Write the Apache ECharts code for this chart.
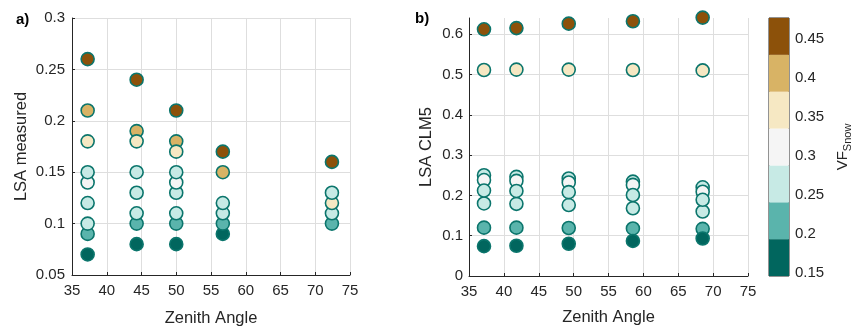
<!DOCTYPE html>
<html>
<head>
<meta charset="utf-8">
<script src="https://cdn.jsdelivr.net/npm/echarts@6/dist/echarts.min.js"></script>
<style>
html,body{margin:0;padding:0;background:#fff;}
#chart{width:854px;height:332px;}
</style>
</head>
<body>
<div id="chart"></div>
<script>
// ---- Panel a) LSA measured ----
const measuredZenith = [
  37.25, 37.25, 37.25, 37.25, 37.25, 37.25, 37.25, 37.25, 37.25,
  44.3, 44.3, 44.3, 44.3, 44.3, 44.3, 44.3, 44.3,
  50.0, 50.0, 50.0, 50.0, 50.0, 50.0, 50.0, 50.0, 50.0,
  56.7, 56.7, 56.7, 56.7, 56.7, 56.7,
  72.4, 72.4, 72.4, 72.4, 72.4
];
const measuredLSA = [
  0.07, 0.09, 0.10, 0.12, 0.14, 0.15, 0.21, 0.18, 0.26,
  0.08, 0.10, 0.11, 0.13, 0.15, 0.19, 0.18, 0.24,
  0.08, 0.10, 0.11, 0.13, 0.14, 0.15, 0.18, 0.17, 0.21,
  0.09, 0.10, 0.11, 0.12, 0.15, 0.17,
  0.10, 0.11, 0.12, 0.13, 0.16
];
const measuredVF = [
  0.17, 0.22, 0.26, 0.26, 0.31, 0.26, 0.41, 0.36, 0.45,
  0.17, 0.22, 0.26, 0.26, 0.26, 0.41, 0.36, 0.45,
  0.17, 0.22, 0.26, 0.26, 0.31, 0.26, 0.41, 0.36, 0.45,
  0.17, 0.22, 0.26, 0.26, 0.41, 0.45,
  0.22, 0.26, 0.36, 0.26, 0.45
];

// ---- Panel b) LSA CLM5 ----
const clmZenith = [
  37.15, 37.15, 37.15, 37.15, 37.15, 37.15, 37.15, 37.15,
  41.8, 41.8, 41.8, 41.8, 41.8, 41.8, 41.8, 41.8,
  49.3, 49.3, 49.3, 49.3, 49.3, 49.3, 49.3, 49.3,
  58.5, 58.5, 58.5, 58.5, 58.5, 58.5, 58.5, 58.5,
  68.5, 68.5, 68.5, 68.5, 68.5, 68.5, 68.5, 68.5
];
const clmLSA = [
  0.250, 0.238, 0.180, 0.212, 0.120, 0.074, 0.511, 0.612,
  0.246, 0.236, 0.179, 0.211, 0.120, 0.075, 0.512, 0.615,
  0.242, 0.232, 0.176, 0.208, 0.119, 0.080, 0.512, 0.626,
  0.234, 0.226, 0.168, 0.201, 0.118, 0.087, 0.511, 0.632,
  0.220, 0.209, 0.160, 0.189, 0.117, 0.093, 0.510, 0.641
];
const clmVF = [
  0.26, 0.31, 0.26, 0.26, 0.22, 0.17, 0.36, 0.45,
  0.26, 0.31, 0.26, 0.26, 0.22, 0.17, 0.36, 0.45,
  0.26, 0.31, 0.26, 0.26, 0.22, 0.17, 0.36, 0.45,
  0.26, 0.31, 0.26, 0.26, 0.22, 0.17, 0.36, 0.45,
  0.26, 0.31, 0.26, 0.26, 0.22, 0.17, 0.36, 0.45
];

// ---- Colour bar (VF Snow) ----
const vfBandEdges = [0.1462, 0.1934, 0.2406, 0.2878, 0.3350, 0.3822, 0.4294, 0.4766];
const vfColors = ['#01665e', '#5ab4ac', '#c7eae5', '#f5f5f5', '#f6e8c3', '#d8b365', '#8c510a'];
const vfTicks = [0.15, 0.2, 0.25, 0.3, 0.35, 0.4, 0.45];

const FONT = 'Liberation Sans, Arial, sans-serif';
const TXT = '#262626';
const GRIDC = '#dedede';
const EDGE = '#0b756c';

function pts(xs, ys, vs) { return xs.map((x, i) => [x, ys[i], vs[i]]); }

function xAxisCfg(gi) {
  return {
    gridIndex: gi, type: 'value', min: 35, max: 75, interval: 5,
    name: 'Zenith Angle', nameLocation: 'middle', nameGap: gi === 0 ? 35 : 33,
    nameTextStyle: { fontFamily: FONT, fontSize: 16.5, color: TXT },
    axisLine: { show: true, onZero: false, lineStyle: { color: TXT, width: 1 } },
    axisTick: { show: true, inside: true, length: 3, lineStyle: { color: TXT } },
    axisLabel: { fontFamily: FONT, fontSize: 15, color: TXT, margin: 8 },
    splitLine: { show: true, lineStyle: { color: GRIDC, width: 1 } }
  };
}

const bandSeries = [{
  type: 'bar', xAxisIndex: 2, yAxisIndex: 2, stack: 'cb', silent: true,
  data: [vfBandEdges[0]], barWidth: '100%', itemStyle: { color: 'rgba(0,0,0,0)' }
}];
for (let i = 0; i < vfColors.length; i++) {
  bandSeries.push({
    type: 'bar', xAxisIndex: 2, yAxisIndex: 2, stack: 'cb', silent: true,
    data: [+(vfBandEdges[i + 1] - vfBandEdges[i]).toFixed(6)], barWidth: '100%',
    itemStyle: { color: vfColors[i] }
  });
}

const pieces = vfColors.map((c, i) => ({ gte: vfBandEdges[i], lt: vfBandEdges[i + 1], color: c }));

const option = {
  animation: false,
  backgroundColor: '#fff',
  title: [
    { text: 'a)', left: 11, top: 7, textStyle: { fontFamily: FONT, fontSize: 15, fontWeight: 'bold', color: '#000' } },
    { text: 'b)', left: 410, top: 6, textStyle: { fontFamily: FONT, fontSize: 15, fontWeight: 'bold', color: '#000' } }
  ],
  grid: [
    { left: 72, top: 18, width: 278, height: 261 },
    { left: 469, top: 18, width: 279, height: 258 },
    { left: 769, top: 18, width: 23, height: 258, show: true, borderColor: TXT, borderWidth: 1, backgroundColor: 'transparent' }
  ],
  xAxis: [
    xAxisCfg(0),
    xAxisCfg(1),
    { gridIndex: 2, type: 'category', data: ['VF'], show: false, boundaryGap: true }
  ],
  yAxis: [
    {
      gridIndex: 0, type: 'value', min: 0.05, max: 0.3, interval: 0.05,
      name: 'LSA measured', nameLocation: 'middle', nameGap: 42,
      nameTextStyle: { fontFamily: FONT, fontSize: 16.5, color: TXT },
      axisLine: { show: true, onZero: false, lineStyle: { color: TXT, width: 1 } },
      axisTick: { show: true, inside: true, length: 3, lineStyle: { color: TXT } },
      axisLabel: { fontFamily: FONT, fontSize: 15, color: TXT, margin: 7 },
      splitLine: { show: true, lineStyle: { color: GRIDC, width: 1 } }
    },
    {
      gridIndex: 1, type: 'value', min: 0, max: 0.64, interval: 0.1,
      name: 'LSA CLM5', nameLocation: 'middle', nameGap: 34,
      nameTextStyle: { fontFamily: FONT, fontSize: 16.5, color: TXT },
      axisLine: { show: true, onZero: false, lineStyle: { color: TXT, width: 1 } },
      axisTick: { show: true, inside: true, length: 3, lineStyle: { color: TXT } },
      axisLabel: { fontFamily: FONT, fontSize: 15, color: TXT, margin: 6, showMaxLabel: false },
      splitLine: { show: true, showMaxLine: false, lineStyle: { color: GRIDC, width: 1 } }
    },
    {
      gridIndex: 2, type: 'value', position: 'right',
      min: vfBandEdges[0], max: vfBandEdges[vfBandEdges.length - 1],
      name: '{a|VF}{b|Snow}', nameLocation: 'middle', nameGap: 44,
      nameTextStyle: {
        fontFamily: FONT, color: TXT,
        rich: {
          a: { fontFamily: FONT, fontSize: 15, color: TXT },
          b: { fontFamily: FONT, fontSize: 11, color: TXT, padding: [9, 0, 0, 0] }
        }
      },
      axisLine: { show: false },
      axisTick: { show: true, inside: true, length: 3, customValues: vfTicks, lineStyle: { color: TXT } },
      axisLabel: { fontFamily: FONT, fontSize: 15, color: TXT, margin: 6, customValues: vfTicks },
      splitLine: { show: false }
    }
  ],
  visualMap: {
    type: 'piecewise', show: false, dimension: 2, seriesIndex: [0, 1], pieces: pieces
  },
  series: [
    {
      type: 'scatter', xAxisIndex: 0, yAxisIndex: 0, clip: false,
      symbol: 'circle', symbolSize: 13,
      itemStyle: { borderColor: EDGE, borderWidth: 1.6, opacity: 1 },
      data: pts(measuredZenith, measuredLSA, measuredVF)
    },
    {
      type: 'scatter', xAxisIndex: 1, yAxisIndex: 1, clip: false,
      symbol: 'circle', symbolSize: 13,
      itemStyle: { borderColor: EDGE, borderWidth: 1.6, opacity: 1 },
      data: pts(clmZenith, clmLSA, clmVF)
    }
  ].concat(bandSeries)
};

const chart = echarts.init(document.getElementById('chart'), null, { renderer: 'canvas' });
chart.setOption(option);
</script>
</body>
</html>
